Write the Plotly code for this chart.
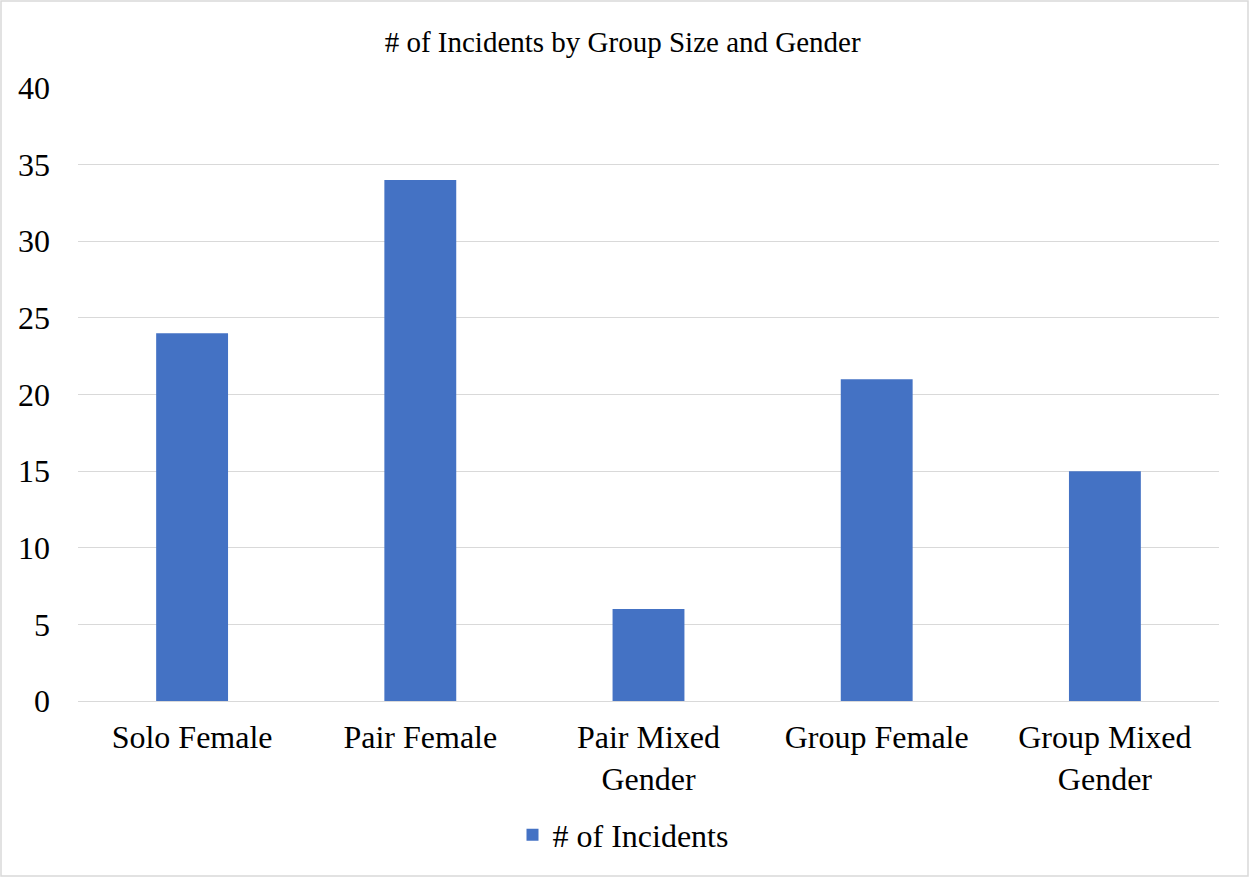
import plotly.graph_objects as go

categories = ["Solo Female", "Pair Female", "Pair Mixed<br>Gender", "Group Female", "Group Mixed<br>Gender"]
incidents = [24, 34, 6, 21, 15]
series_name = "# of Incidents"
y_ticks = [0, 5, 10, 15, 20, 25, 30, 35, 40]

W, H = 1249, 877
ML, MR, MT, MB = 78, 30, 88, 176
pw, ph = W - ML - MR, H - MT - MB

font_family = "Liberation Serif, Times New Roman, serif"

fig = go.Figure()
fig.add_trace(go.Bar(
    x=categories, y=incidents, name=series_name,
    marker=dict(color="#4472C4", line=dict(width=0)),
    showlegend=True,
))

# outer chart border
fig.add_shape(
    type="rect", xref="paper", yref="paper",
    x0=(-ML + 1) / pw, x1=(W - ML - 1) / pw,
    y0=(-MB + 1) / ph, y1=(H - MB - 1) / ph,
    line=dict(color="#d9d9d9", width=1.5), fillcolor="rgba(0,0,0,0)", layer="below",
)

fig.update_layout(
    width=W, height=H,
    margin=dict(l=ML, r=MR, t=MT, b=MB),
    paper_bgcolor="white", plot_bgcolor="white",
    font=dict(family=font_family, color="#000000", size=32),
    title=dict(text="# of Incidents by Group Size and Gender", x=0.4985, xref="container",
               xanchor="center", y=1 - 42 / H, yanchor="middle",
               font=dict(size=29, family=font_family, color="#000000")),
    bargap=0.685,
    legend=dict(orientation="h", x=(623 - ML) / pw, xanchor="center", xref="paper",
                y=-(835 - 701) / ph, yanchor="middle",
                font=dict(size=32, family=font_family), itemwidth=30),
    xaxis=dict(showgrid=False, showline=True, linecolor="#d9d9d9", linewidth=1,
               ticks="", ticklabelstandoff=8, tickfont=dict(size=32, family=font_family)),
    yaxis=dict(range=[0, 40], tickvals=y_ticks, showgrid=True, gridcolor="#d9d9d9",
               gridwidth=1, zeroline=False, showline=False, ticks="",
               ticklabelstandoff=27, tickfont=dict(size=32, family=font_family)),
)

fig.write_html("out.html")
